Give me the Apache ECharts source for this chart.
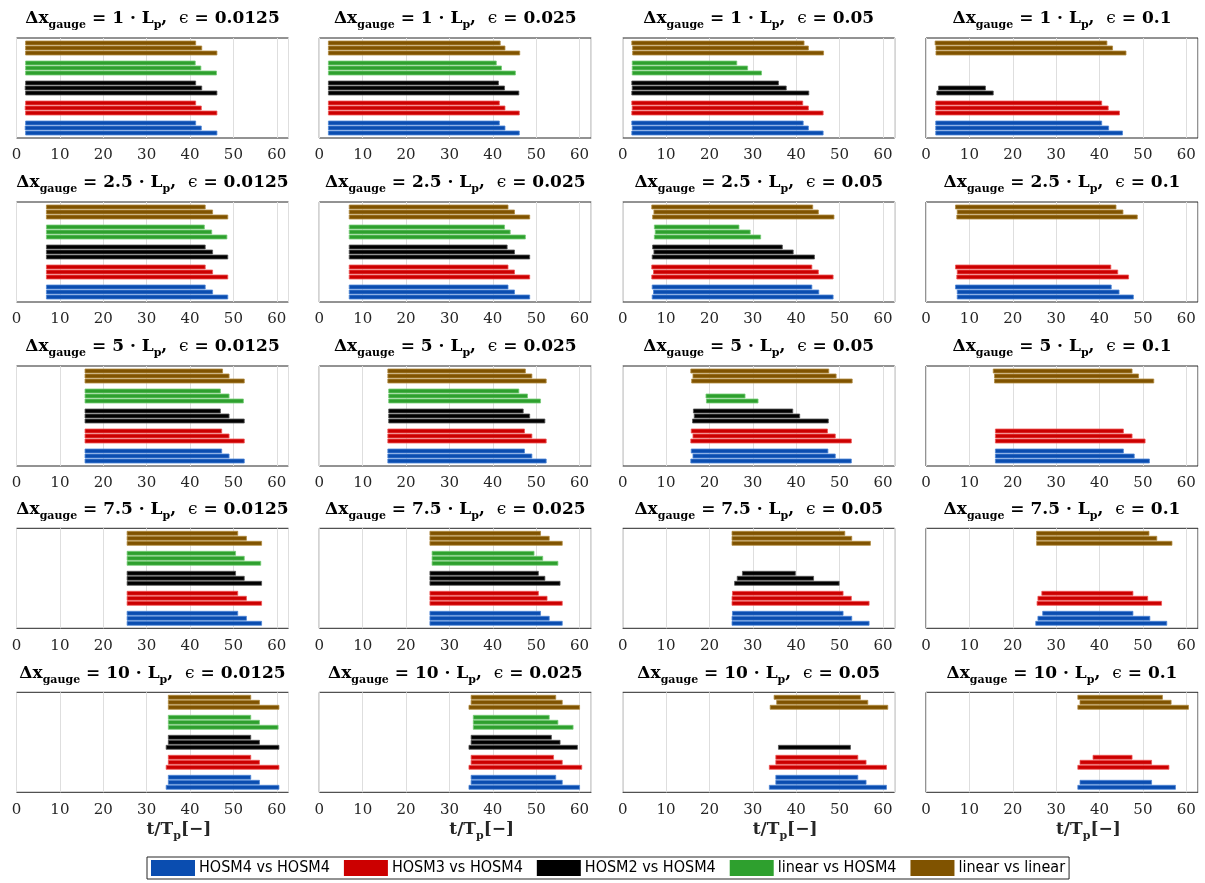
<!DOCTYPE html>
<html><head><meta charset="utf-8">
<script src="https://cdn.jsdelivr.net/npm/echarts@6/dist/echarts.min.js"></script>
<style>html,body{margin:0;padding:0;background:#fff}#c{width:1205px;height:883px}</style>
</head><body><div id="c"></div>
<script>
// ---------- DATA ----------
const rowDx = ['1', '2.5', '5', '7.5', '10'];
const colEps = ['0.0125', '0.025', '0.05', '0.1'];
const xTicks = [0, 10, 20, 30, 40, 50, 60];
const seriesNames = ['HOSM4 vs HOSM4', 'HOSM3 vs HOSM4', 'HOSM2 vs HOSM4', 'linear vs HOSM4', 'linear vs linear'];
// Each array: 20 panels (row-major: dx rows, eps columns); each panel 3 bars (top to bottom) [start, end]; null = no bar
const hosm4 = [
  [[2.1,41.3],[2.0,42.6],[2.1,46.2]], [[2.1,41.5],[2.1,42.8],[2.1,46.1]], [[2.1,41.6],[2.2,42.8],[2.1,46.2]], [[2.25,40.5],[2.25,42.1],[2.25,45.3]],
  [[6.9,43.5],[6.9,45.2],[6.9,48.7]], [[6.9,43.5],[6.9,45.0],[6.9,48.5]], [[6.8,43.6],[7.1,45.2],[6.8,48.5]], [[6.8,42.7],[7.2,44.5],[7.2,47.8]],
  [[15.8,47.3],[15.8,49.0],[15.8,52.5]], [[15.8,47.3],[15.8,49.0],[15.8,52.3]], [[15.8,47.3],[16.2,49.0],[15.7,52.7]], [[16.0,45.5],[16.0,48.0],[16.0,51.5]],
  [[25.5,51.0],[25.5,53.0],[25.5,56.5]], [[25.5,51.0],[25.5,53.0],[25.5,56.0]], [[25.3,50.8],[25.2,52.8],[25.2,56.8]], [[26.9,47.7],[25.8,51.6],[25.3,55.5]],
  [[35.0,54.0],[35.0,56.0],[34.5,60.5]], [[35.0,54.5],[35.0,56.0],[34.5,60.0]], [[35.3,54.2],[35.3,56.1],[33.8,60.8]], [null,[35.5,52.0],[35.0,57.5]]
];
const hosm3 = [
  [[2.1,41.3],[2.0,42.6],[2.1,46.2]], [[2.1,41.5],[2.1,42.8],[2.1,46.1]], [[2.1,41.5],[2.2,42.8],[2.1,46.2]], [[2.25,40.5],[2.25,42.0],[2.25,44.6]],
  [[6.9,43.5],[6.9,45.2],[6.9,48.7]], [[6.9,43.5],[6.9,45.0],[6.9,48.5]], [[6.7,43.6],[7.1,45.1],[6.7,48.5]], [[6.8,42.6],[7.2,44.2],[7.1,46.7]],
  [[15.8,47.3],[15.8,49.0],[15.8,52.5]], [[15.8,47.3],[15.8,49.0],[15.8,52.3]], [[15.8,47.2],[16.2,49.0],[15.7,52.7]], [[16.0,45.5],[16.0,47.5],[16.0,50.5]],
  [[25.5,51.0],[25.5,53.0],[25.5,56.5]], [[25.5,50.5],[25.5,52.5],[25.5,56.0]], [[25.3,50.8],[25.2,52.7],[25.2,56.8]], [[26.7,47.7],[25.8,51.1],[25.6,54.3]],
  [[35.0,54.0],[35.0,56.0],[34.5,60.5]], [[35.0,54.0],[35.0,56.0],[34.5,60.5]], [[35.3,54.2],[35.3,56.1],[33.8,60.8]], [[38.5,47.5],[35.5,52.0],[35.0,56.0]]
];
const hosm2 = [
  [[2.1,41.3],[2.0,42.7],[2.1,46.2]], [[2.1,41.3],[2.1,42.7],[2.1,46.0]], [[2.1,35.9],[2.2,37.7],[2.1,42.9]], [null,[2.9,13.7],[2.5,15.5]],
  [[6.9,43.5],[6.9,45.2],[6.9,48.7]], [[6.9,43.3],[6.9,45.0],[6.9,48.5]], [[6.9,36.8],[7.2,39.3],[6.8,44.2]], [null,null,null],
  [[15.8,47.0],[15.8,49.0],[15.8,52.5]], [[16.0,47.0],[16.0,48.5],[16.0,52.0]], [[16.3,39.2],[16.5,40.8],[16.1,47.4]], [null,null,null],
  [[25.5,50.5],[25.5,52.5],[25.5,56.5]], [[25.5,50.5],[25.5,52.0],[25.5,55.5]], [[27.6,39.8],[26.4,44.0],[25.8,49.9]], [null,null,null],
  [[35.0,54.0],[35.0,56.0],[34.5,60.5]], [[35.0,53.5],[35.0,55.5],[34.5,59.5]], [null,null,[35.9,52.5]], [null,null,null]
];
const linHosm4 = [
  [[2.1,41.2],[2.1,42.5],[2.1,46.1]], [[2.1,40.8],[2.1,42.0],[2.1,45.2]], [[2.2,26.3],[2.2,28.8],[2.2,32.0]], [null,null,null],
  [[6.9,43.3],[6.9,45.0],[6.9,48.5]], [[6.9,42.7],[6.9,44.0],[6.9,47.5]], [[7.3,26.8],[7.5,29.4],[7.3,31.8]], [null,null,null],
  [[15.8,47.0],[15.8,49.0],[15.8,52.3]], [[16.0,46.0],[16.0,48.0],[16.0,51.0]], [null,[19.2,28.2],[19.3,31.2]], [null,null,null],
  [[25.5,50.5],[25.5,52.5],[25.5,56.3]], [[26.0,49.5],[26.0,51.5],[26.0,55.0]], [null,null,null], [null,null,null],
  [[35.0,54.0],[35.0,56.0],[35.0,60.3]], [[35.5,53.0],[35.5,55.0],[35.5,58.5]], [null,null,null], [null,null,null]
];
const linLin = [
  [[2.1,41.3],[2.1,42.7],[2.1,46.2]], [[2.1,41.7],[2.1,42.8],[2.1,46.2]], [[2.1,41.8],[2.3,42.8],[2.3,46.3]], [[2.1,41.7],[2.3,43.0],[2.3,46.1]],
  [[6.9,43.5],[6.9,45.2],[6.9,48.7]], [[6.9,43.5],[6.9,45.0],[6.9,48.5]], [[6.7,43.8],[7.2,45.1],[6.9,48.7]], [[6.8,43.8],[7.2,45.4],[7.1,48.7]],
  [[15.8,47.5],[15.8,49.0],[15.8,52.5]], [[15.8,47.5],[15.8,49.0],[15.8,52.3]], [[15.7,47.5],[16.2,49.2],[15.9,52.9]], [[15.5,47.5],[15.8,49.0],[15.8,52.5]],
  [[25.5,51.0],[25.5,53.0],[25.5,56.5]], [[25.5,51.0],[25.5,53.0],[25.5,56.0]], [[25.2,51.2],[25.2,52.8],[25.2,57.1]], [[25.5,51.4],[25.5,53.2],[25.5,56.7]],
  [[35.0,54.0],[35.0,56.0],[35.0,60.5]], [[35.0,54.5],[35.0,56.0],[34.5,60.0]], [[34.9,54.8],[35.5,56.5],[34.0,61.1]], [[35.0,54.5],[35.5,56.5],[35.0,60.5]]
];
const allSets = [hosm4, hosm3, hosm2, linHosm4, linLin];
// ---------- STYLE / LAYOUT ----------
const colors = ['#0a4db0', '#cc0000', '#000000', '#2ea02e', '#805300'];
const edge = ['#4f86d6', '#ee5555', '#555555', '#77cc77', '#b08a40'];
const groupBase = [17, 13, 9, 5, 1]; // y slot of top bar in each group (0 at top)
const colLeft = [16.5, 319.3, 622.7, 926];
const rowTop = [38, 202, 366, 528.3, 692.3];
const W = 272, H = 100, XMAX = 62.7;
const serif = "'DejaVu Serif', serif";
const narrow = "'Liberation Sans Narrow', 'DejaVu Sans Condensed', 'Arial Narrow', sans-serif";

const grids = [], xAxes = [], yAxes = [], series = [], graphics = [];
let gi = 0;
for (let r = 0; r < 5; r++) {
  for (let c = 0; c < 4; c++) {
    const p = r * 4 + c;
    grids.push({ left: colLeft[c], top: rowTop[r], width: W, height: H, show: true, borderColor: '#262626', borderWidth: 1, backgroundColor: '#fff' });
    xAxes.push({ type: 'value', gridIndex: gi, min: 0, max: XMAX, interval: 10,
      axisLine: { show: false }, axisTick: { show: false },
      splitLine: { show: true, lineStyle: { color: '#dedede', width: 1 } },
      axisLabel: { show: true, fontFamily: serif, fontSize: 15, color: '#262626', margin: 10, showMaxLabel: false,
        formatter: v => (xTicks.indexOf(v) >= 0 ? String(v) : '') } });
    yAxes.push({ type: 'value', gridIndex: gi, min: 0, max: 20, inverse: true, show: false });
    for (let s = 0; s < 5; s++) {
      const bars = allSets[s][p];
      const data = [];
      bars.forEach((b, k) => { if (b) data.push([b[0], b[1], groupBase[s] + k]); });
      series.push({ type: 'custom', name: seriesNames[s], xAxisIndex: gi, yAxisIndex: gi, data: data,
        itemStyle: { color: colors[s] },
        encode: { x: [0, 1], y: 2 },
        renderItem: (function (col, ed) {
          return function (params, api) {
            const a = api.coord([api.value(0), api.value(2)]);
            const b = api.coord([api.value(1), api.value(2)]);
            return { type: 'rect', shape: { x: a[0], y: a[1] - 2, width: b[0] - a[0], height: 4 },
              style: { fill: col, stroke: ed, lineWidth: 0.8 } };
          };
        })(colors[s], edge[s]) });
    }
    graphics.push({ type: 'text', x: colLeft[c] + W / 2, y: rowTop[r] - 19,
      style: { text: '{m|Δx}{s|gauge}{m| = ' + rowDx[r] + ' · L}{s|p}{m|,  }{e|ϵ}{m| = ' + colEps[c] + '}',
        align: 'center', verticalAlign: 'middle',
        rich: { m: { fontFamily: serif, fontWeight: 'bold', fontSize: 17, lineHeight: 24, verticalAlign: 'middle', fill: '#000' },
                e: { fontFamily: serif, fontSize: 17, lineHeight: 24, verticalAlign: 'middle', fill: '#000' },
                s: { fontFamily: serif, fontWeight: 'bold', fontSize: 11, lineHeight: 12, verticalAlign: 'bottom', fill: '#000' } } } });
    gi++;
  }
}
for (let c = 0; c < 4; c++) {
  graphics.push({ type: 'text', x: colLeft[c] + W / 2 - 6, y: 830,
    style: { text: '{m|t/T}{s|p}{m|[−]}', align: 'left', verticalAlign: 'middle',
      rich: { m: { fontFamily: serif, fontWeight: 'bold', fontSize: 17, lineHeight: 24, verticalAlign: 'middle', fill: '#262626' },
              s: { fontFamily: serif, fontWeight: 'bold', fontSize: 11, lineHeight: 12, verticalAlign: 'bottom', fill: '#262626' } } } });
}

const chart = echarts.init(document.getElementById('c'), null, { renderer: 'canvas' });
chart.setOption({
  animation: false,
  backgroundColor: '#fff',
  grid: grids, xAxis: xAxes, yAxis: yAxes, series: series, graphic: graphics,
  legend: { data: seriesNames.map((n, i) => ({ name: n, itemStyle: { color: colors[i] } })),
    left: 147, top: 857, itemWidth: 44, itemHeight: 16, itemGap: 14, icon: 'rect',
    padding: [3, 4, 3, 4], borderColor: '#262626', borderWidth: 1, backgroundColor: '#fff',
    textStyle: { fontFamily: narrow, fontSize: 16, color: '#000', padding: [0, 0, 0, -1] } }
});
</script></body></html>
